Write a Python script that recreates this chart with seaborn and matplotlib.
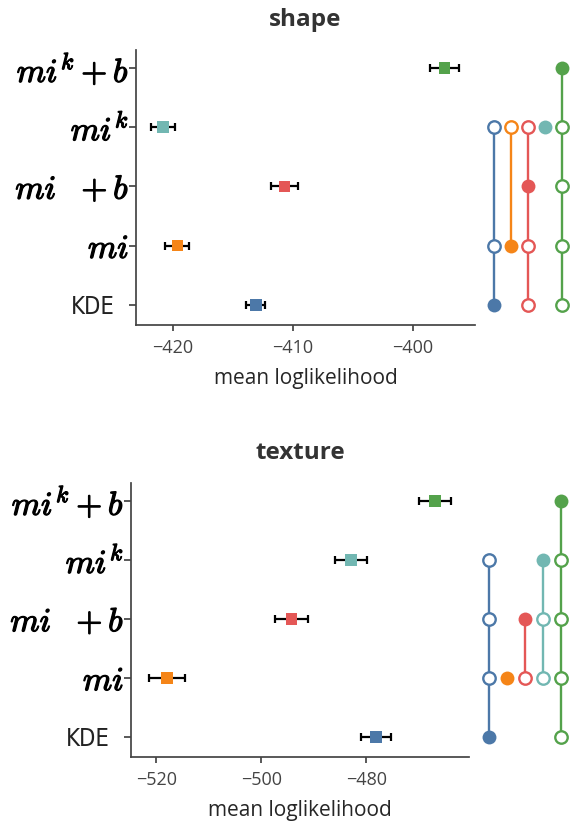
import numpy as np
import matplotlib
matplotlib.use("Agg")
import matplotlib.pyplot as plt
import matplotlib.patheffects as pe
import matplotlib.transforms as mtransforms
import seaborn as sns

# models, bottom to top
models = ["KDE", "mi", "mi+b", "mi^k", "mi^k+b"]
model_labels = ["KDE", r"$mi$", r"$mi\ \ + b$", r"$mi^k$", r"$mi^k + b$"]
colors = ["#4c78a8", "#f58518", "#e45756", "#72b7b2", "#54a24b"]

shape_mean = [-413.1, -419.65, -410.7, -420.85, -397.35]
shape_err = [0.8, 1.0, 1.1, 1.0, 1.2]
texture_mean = [-478.2, -517.95, -494.3, -482.95, -467.0]
texture_err = [2.8, 3.4, 3.2, 3.0, 3.1]

# nesting diagram: for each model column, the rows drawn as open circles
shape_open = [[1, 3], [3], [0, 1, 3], [], [0, 1, 2, 3]]
texture_open = [[1, 2, 3], [], [1], [1, 2], [0, 1, 2, 3]]

sns.set_theme(style="ticks")
plt.rcParams["font.family"] = ["Open Sans", "DejaVu Sans"]
plt.rcParams["mathtext.fontset"] = "cm"
plt.rcParams["axes.edgecolor"] = "#444444"
plt.rcParams["xtick.color"] = "#444444"
plt.rcParams["ytick.color"] = "#444444"
plt.rcParams["text.color"] = "#333333"

fig = plt.figure(figsize=(5.87, 8.21), dpi=100)

panels = [
    ("shape", shape_mean, shape_err, shape_open, [136, 50, 475, 325], (-423.1, -394.8), [-420, -410, -400]),
    ("texture", texture_mean, texture_err, texture_open, [131, 483, 469, 757], (-524.8, -460.5), [-520, -500, -480]),
]

W, H = 587, 821
for title, means, errs, opens, (x0, y0, x1, y1), xlim, xticks in panels:
    ax = fig.add_axes([x0 / W, 1 - y1 / H, (x1 - x0) / W, (y1 - y0) / H])
    ypos = np.arange(len(models))
    ax.errorbar(means, ypos, xerr=errs, fmt="none", ecolor="black",
                elinewidth=1.6, capsize=3, capthick=1.6, zorder=2)
    sns.scatterplot(x=means, y=ypos, hue=models, palette=colors, marker="s",
                    s=70, linewidth=0, legend=False, ax=ax, zorder=3)
    ax.set_xlim(*xlim)
    ax.set_ylim(-0.34, 4.3)
    ax.set_xticks(xticks)
    ax.set_xticklabels([f"\u2212{abs(t)}" for t in xticks])
    ax.set_yticks(ypos)
    ax.set_yticklabels(model_labels)
    ax.tick_params(axis="x", labelsize=13, length=4, pad=6)
    ax.tick_params(axis="y", length=5, pad=0)
    for lab in ax.get_yticklabels():
        lab.set_color("black")
        if lab.get_text() == "KDE":
            lab.set_fontsize(17)
            lab.set_color("#222222")
            lab.set_family(["DejaVu Sans"])
            lab.set_fontstretch("condensed")
            lab.set_transform(lab.get_transform() +
                              mtransforms.ScaledTranslation(-14 / 100, 0, fig.dpi_scale_trans))
        else:
            lab.set_fontsize(24)
            lab.set_path_effects([pe.withStroke(linewidth=0.9, foreground="black")])
    ax.set_xlabel("mean loglikelihood", fontsize=15, labelpad=8)
    ax.set_ylabel("")
    ax.set_title(title, fontsize=17.5, fontweight="bold", pad=17)
    sns.despine(ax=ax)

    # nesting diagram to the right of the panel
    dax = fig.add_axes([(x1 + 1) / W, 1 - y1 / H, (W - x1 - 1) / W, (y1 - y0) / H], sharey=ax)
    dax.set_xlim(-1.06, 5.47)
    dax.axis("off")
    for j, rows in enumerate(opens):
        allrows = rows + [j]
        if len(allrows) > 1:
            dax.plot([j, j], [min(allrows), max(allrows)], color=colors[j], lw=1.7, zorder=1)
        if rows:
            dax.scatter([j] * len(rows), rows, s=80, facecolor="white",
                        edgecolor=colors[j], linewidth=1.7, zorder=2)
        dax.scatter([j], [j], s=100, color=colors[j], linewidth=0, zorder=3)

fig.savefig("out.png", dpi=100)
